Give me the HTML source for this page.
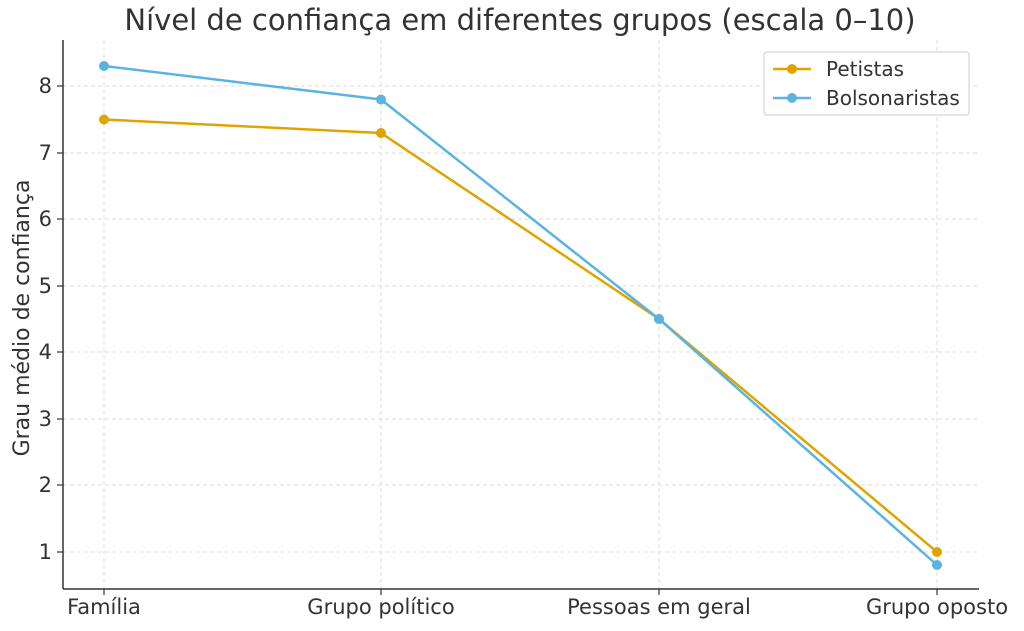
<!DOCTYPE html>
<html><head><meta charset="utf-8"><style>
body{margin:0;background:#fff;}
svg{display:block;font-family:"DejaVu Sans","Liberation Sans",sans-serif;}
</style></head><body>
<svg width="1024" height="631" viewBox="0 0 1024 631">
<rect width="1024" height="631" fill="#fff"/>
<text x="520" y="30" font-size="29" text-anchor="middle" fill="#333">Nível de confiança em diferentes grupos (escala 0–10)</text>
<g stroke="#ddd" stroke-width="1" stroke-dasharray="4,3">
<line x1="63" y1="552" x2="979" y2="552"/><line x1="63" y1="485" x2="979" y2="485"/>
<line x1="63" y1="419" x2="979" y2="419"/><line x1="63" y1="352" x2="979" y2="352"/>
<line x1="63" y1="286" x2="979" y2="286"/><line x1="63" y1="219" x2="979" y2="219"/>
<line x1="63" y1="153" x2="979" y2="153"/><line x1="63" y1="86" x2="979" y2="86"/>
<line x1="104" y1="40" x2="104" y2="589"/><line x1="381" y1="40" x2="381" y2="589"/>
<line x1="659" y1="40" x2="659" y2="589"/><line x1="937" y1="40" x2="937" y2="589"/>
</g>
<g stroke="#333" stroke-width="1.5">
<line x1="63" y1="40" x2="63" y2="589"/><line x1="63" y1="589" x2="979" y2="589"/>
</g>
<g stroke="#333" stroke-width="1.2">
<line x1="57" y1="552" x2="63" y2="552"/><line x1="57" y1="485" x2="63" y2="485"/>
<line x1="57" y1="419" x2="63" y2="419"/><line x1="57" y1="352" x2="63" y2="352"/>
<line x1="57" y1="286" x2="63" y2="286"/><line x1="57" y1="219" x2="63" y2="219"/>
<line x1="57" y1="153" x2="63" y2="153"/><line x1="57" y1="86" x2="63" y2="86"/>
<line x1="104" y1="589" x2="104" y2="595"/><line x1="381" y1="589" x2="381" y2="595"/>
<line x1="659" y1="589" x2="659" y2="595"/><line x1="937" y1="589" x2="937" y2="595"/>
</g>
<g font-size="21" fill="#333" text-anchor="end">
<text x="52" y="559">1</text><text x="52" y="492">2</text><text x="52" y="426">3</text>
<text x="52" y="359">4</text><text x="52" y="293">5</text><text x="52" y="226">6</text>
<text x="52" y="160">7</text><text x="52" y="93">8</text>
</g>
<g font-size="21" fill="#333" text-anchor="middle">
<text x="104" y="614">Família</text><text x="381" y="614">Grupo político</text>
<text x="659" y="614">Pessoas em geral</text><text x="937" y="614">Grupo oposto</text>
</g>
<text transform="translate(29,318) rotate(-90)" font-size="22" fill="#333" text-anchor="middle">Grau médio de confiança</text>
<polyline points="104,119.5 381,133 659,319 937,552" fill="none" stroke="#E0A400" stroke-width="2.5"/>
<g fill="#E0A400"><circle cx="104" cy="119.5" r="5"/><circle cx="381" cy="133" r="5"/><circle cx="659" cy="319" r="5"/><circle cx="937" cy="552" r="5"/></g>
<polyline points="104,66 381,99.5 659,319 937,565" fill="none" stroke="#5BB4E0" stroke-width="2.5"/>
<g fill="#5BB4E0"><circle cx="104" cy="66" r="5"/><circle cx="381" cy="99.5" r="5"/><circle cx="659" cy="319" r="5"/><circle cx="937" cy="565" r="5"/></g>
<rect x="764" y="52" width="205" height="63" rx="3" fill="#fff" stroke="#ccc"/>
<line x1="773" y1="69" x2="811" y2="69" stroke="#E0A400" stroke-width="2.5"/><circle cx="792" cy="69" r="5" fill="#E0A400"/>
<line x1="773" y1="98" x2="811" y2="98" stroke="#5BB4E0" stroke-width="2.5"/><circle cx="792" cy="98" r="5" fill="#5BB4E0"/>
<text x="826" y="76" font-size="20" fill="#333">Petistas</text>
<text x="826" y="105" font-size="20" fill="#333">Bolsonaristas</text>
</svg>
</body></html>
